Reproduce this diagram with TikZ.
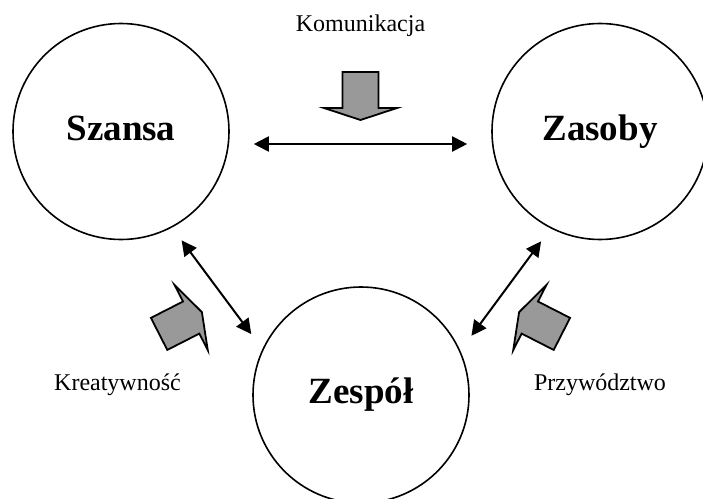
\documentclass[tikz,border=0pt]{standalone}
\usepackage{fontspec}
\setmainfont{Liberation Serif}
\usepackage{tikz}
\usetikzlibrary{arrows.meta,calc}

\definecolor{arrowgray}{RGB}{153,153,153}

\tikzset{
  bigcircle/.style={circle,draw,line width=0.8pt,minimum size=108pt,inner sep=0pt,
    text height=12.6pt,text depth=4pt,
    font=\fontsize{18.5}{22}\selectfont\bfseries},
  opis/.style={anchor=base,font=\fontsize{12}{14}\selectfont},
  link/.style={{Triangle[length=7.5pt,width=7.5pt]}-{Triangle[length=7.5pt,width=7.5pt]},line width=1pt},
  blockarrow/.pic={
    \draw[line width=0.9pt,fill=arrowgray,line join=miter]
      (-24,-18) -- (12,-18) -- (12,-36.5) -- (24,0) -- (12,36.5) -- (12,18) -- (-24,18) -- cycle;
  }
}

\begin{document}
\begin{tikzpicture}[x=0.5pt,y=-0.5pt]
                \useasboundingbox (0,0) rectangle (703,499);
                \node[bigcircle] (szansa) at (121,131.5) {Szansa};
                \node[bigcircle] (zasoby) at (600,131.5) {Zasoby};
                \node[bigcircle] (zespol) at (361,395) {Zespół};
                \node[opis] (komunikacja) at (360.5,31.7) {Komunikacja};
                \node[opis] (kreatywnosc) at (117.5,390.5) {Kreatywność};
                \node[opis] (przywodztwo) at (600,390.5) {Przywództwo};
                \draw[link,shorten <=12pt,shorten >=12pt] ([yshift=-6.25pt]szansa.east) -- ([yshift=-6.25pt]zasoby.west);
                \draw[link,shorten <=8pt,shorten >=9.3pt] (szansa.-62.4) -- (zespol.155.3);
                \draw[link,shorten <=8pt,shorten >=9.3pt] (zasoby.-117.6) -- (zespol.24.7);
                \pic[rotate=-90] at (360.5,96) {blockarrow};
                \pic[rotate=27] at (180.5,323) {blockarrow};
                \pic[rotate=153] at (540.5,323) {blockarrow};
            \end{tikzpicture}
\end{document}
